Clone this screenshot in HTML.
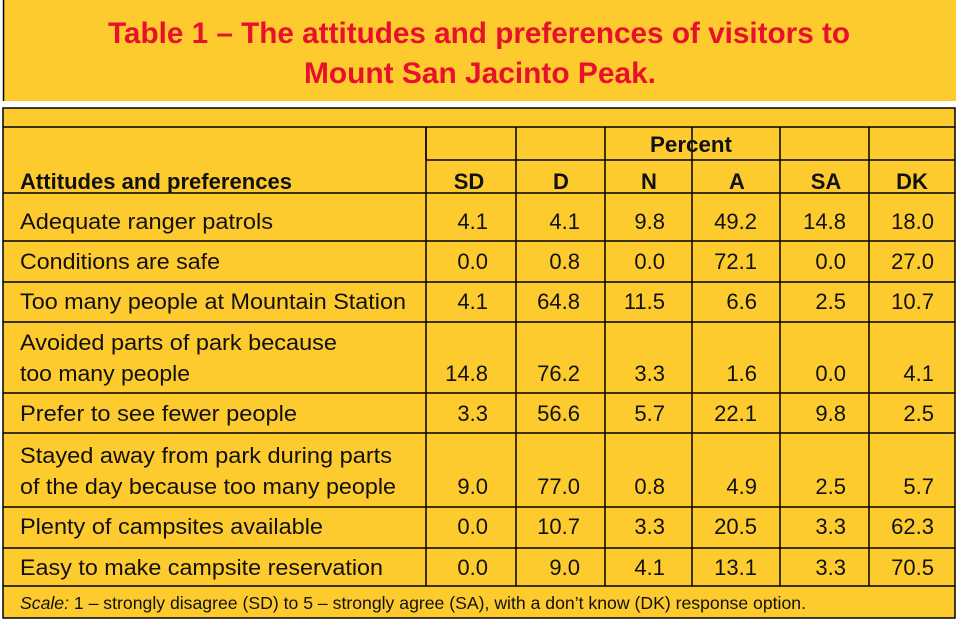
<!DOCTYPE html>
<html><head><meta charset="utf-8"><style>
html,body{margin:0;padding:0;background:#fff;width:958px;height:622px;overflow:hidden}
svg{display:block;font-family:"Liberation Sans Narrow","Liberation Sans",sans-serif}
</style></head><body>
<svg id="t" width="958" height="622" viewBox="0 0 958 622">
<rect x="3" y="0" width="953" height="101" fill="#FDCB2E"/>
<line x1="3.5" y1="0" x2="3.5" y2="101" stroke="#000" stroke-width="1.5"/>
<text x="479" y="43" text-anchor="middle" font-size="30" font-weight="bold" fill="#E8112D" textLength="742" lengthAdjust="spacingAndGlyphs" font-family="Liberation Sans, sans-serif">Table 1 – The attitudes and preferences of visitors to</text>
<text x="480" y="83" text-anchor="middle" font-size="30" font-weight="bold" fill="#E8112D" textLength="352" lengthAdjust="spacingAndGlyphs" font-family="Liberation Sans, sans-serif">Mount San Jacinto Peak.</text>
<rect x="3" y="108" width="952" height="510" fill="#FDCB2E" stroke="#000" stroke-width="1.5"/>
<g id="grid" stroke="#000" stroke-width="1.5"></g>
<g id="txt"></g>
</svg>
<script>
const labels=[["Adequate ranger patrols"],["Conditions are safe"],["Too many people at Mountain Station"],["Avoided parts of park because","too many people"],["Prefer to see fewer people"],["Stayed away from park during parts","of the day because too many people"],["Plenty of campsites available"],["Easy to make campsite reservation"]];
const labelWidths=[[253],[200],[386],[317,170],[277],[372,376],[303],[363]];
const columns=["SD","D","N","A","SA","DK"];
const sd=["4.1","0.0","4.1","14.8","3.3","9.0","0.0","0.0"];
const d=["4.1","0.8","64.8","76.2","56.6","77.0","10.7","9.0"];
const n=["9.8","0.0","11.5","3.3","5.7","0.8","3.3","4.1"];
const a=["49.2","72.1","6.6","1.6","22.1","4.9","20.5","13.1"];
const sa=["14.8","0.0","2.5","0.0","9.8","2.5","3.3","3.3"];
const dk=["18.0","27.0","10.7","4.1","2.5","5.7","62.3","70.5"];
const series=[sd,d,n,a,sa,dk];
const NS="http://www.w3.org/2000/svg";
const grid=document.getElementById('grid'),txt=document.getElementById('txt');
const colX=[426,516,605,692,780,869,955];
const colRight=[488,580,665,757,846,934];
const colCenter=[469,561,649,737,826,912];
const rowLines=[193,241,282,322,393,433,507,548,586];
const rowBase=[229,269,309,381,421,494,534,575];
function line(x1,y1,x2,y2){const l=document.createElementNS(NS,'line');l.setAttribute('x1',x1);l.setAttribute('y1',y1);l.setAttribute('x2',x2);l.setAttribute('y2',y2);


grid.appendChild(l);}
function text(s,x,y,opt){const t=document.createElementNS(NS,'text');t.textContent=s;t.setAttribute('x',x);t.setAttribute('y',y);t.setAttribute('font-size',opt.size||22);t.setAttribute('fill','#111');
if(opt.anchor)t.setAttribute('text-anchor',opt.anchor);if(opt.bold)t.setAttribute('font-weight','bold');if(opt.italic)t.setAttribute('font-style','italic');
if(opt.len){t.setAttribute('textLength',opt.len);t.setAttribute('lengthAdjust','spacingAndGlyphs');}
txt.appendChild(t);return t;}
line(3,127,955,127);
line(426,160,955,160);
rowLines.forEach(y=>line(3,y,955,y));
for(let i=0;i<6;i++)line(colX[i],127,colX[i],586);
line(colX[0],127,colX[0],160);
let e=text("Percent",691,152,{anchor:"middle",bold:true,size:22,len:82});


e=text("Attitudes and preferences",20,189,{bold:true,size:22,len:272});


columns.forEach((c,i)=>{const h=text(c,colCenter[i],189,{anchor:"middle",bold:true,size:22});

});
labels.forEach((lab,r)=>{
 lab.forEach((s,k)=>{const y=rowBase[r]-(lab.length-1-k)*31;const t=text(s,20,y,{size:22,len:labelWidths[r][k]});
 
 });
 series.forEach((arr,c)=>{const v=text(arr[r],colRight[c],rowBase[r],{anchor:"end",size:22});
 
 });
});
const f=document.createElementNS(NS,'text');f.setAttribute('x',20);f.setAttribute('y',609);f.setAttribute('font-size',17.5);f.setAttribute('fill','#111');
f.setAttribute('textLength',786);f.setAttribute('lengthAdjust','spacingAndGlyphs');


const ts=document.createElementNS(NS,'tspan');ts.setAttribute('font-style','italic');ts.textContent='Scale:';f.appendChild(ts);
f.appendChild(document.createTextNode(" 1 – strongly disagree (SD) to 5 – strongly agree (SA), with a don’t know (DK) response option."));
txt.appendChild(f);
</script>
</body></html>
